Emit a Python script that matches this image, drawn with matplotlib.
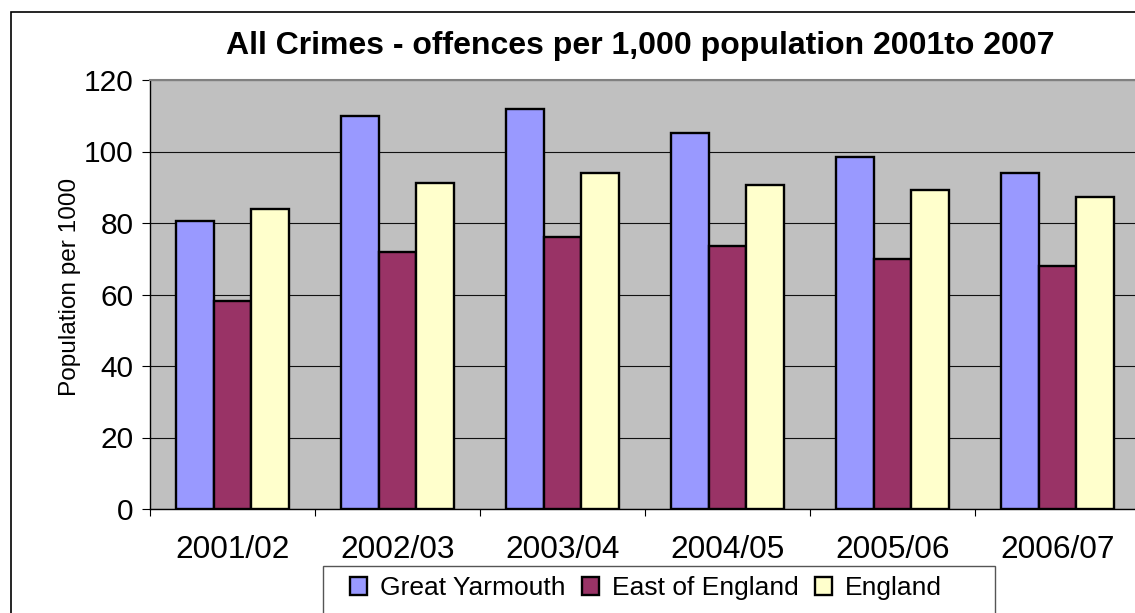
import matplotlib.pyplot as plt
import numpy as np
from matplotlib.patches import Rectangle

years = ['2001/02', '2002/03', '2003/04', '2004/05', '2005/06', '2006/07']
great_yarmouth = [80.5, 109.9, 111.9, 105.3, 98.5, 93.9]
east_of_england = [58.1, 72.0, 76.1, 73.5, 70.0, 68.0]
england = [84.0, 91.3, 94.0, 90.7, 89.3, 87.3]

series = [('Great Yarmouth', great_yarmouth, '#9999FF'),
          ('East of England', east_of_england, '#993366'),
          ('England', england, '#FFFFCC')]

plt.rcParams['font.family'] = ['Liberation Sans', 'DejaVu Sans']

W, H = 1135, 613
fig = plt.figure(figsize=(W / 100, H / 100), dpi=100)
ax = fig.add_axes([150 / W, 1 - 509 / H, 990 / W, 429 / H])
ax.set_facecolor('#C0C0C0')

x = np.arange(len(years))
width = 0.228
bars = []
for i, (name, vals, col) in enumerate(series):
    b = ax.bar(x + (i - 1) * width, vals, width, color=col, edgecolor='black',
               linewidth=1.7, label=name, zorder=3)
    bars.append(b)

ax.set_xlim(-0.5, len(years) - 0.5)
ax.set_ylim(0, 120)
ax.set_yticks(np.arange(0, 121, 20))
ax.yaxis.grid(True, color='#111111', linewidth=0.8, zorder=1)
ax.tick_params(axis='y', labelsize=21.5, length=6, width=0.8, pad=6, direction='out')

# category boundaries as major ticks, labels centred on minor ticks
ax.set_xticks(np.arange(-0.5, len(years), 1.0))
ax.set_xticklabels([])
ax.set_xticks(x, minor=True)
ax.set_xticklabels(years, minor=True)
ax.tick_params(axis='x', which='major', length=5, width=0.8, direction='out')
ax.tick_params(axis='x', which='minor', length=0, labelsize=22.8, pad=19)

for s in ['top', 'right']:
    ax.spines[s].set_color('#808080')
    ax.spines[s].set_linewidth(1.5)
for s in ['left', 'bottom']:
    ax.spines[s].set_color('black')
    ax.spines[s].set_linewidth(1.0)
ax.spines['bottom'].set_zorder(4)

fig.text(70 / W, 1 - 287 / H, 'Population per 1000', rotation=90,
         fontsize=17.6, ha='center', va='center')
fig.text(640 / W, 1 - 54 / H, 'All Crimes - offences per 1,000 population 2001to 2007',
         fontsize=23, fontweight='bold', ha='center', va='baseline')

# outer chart border
fig.patches.append(Rectangle((11 / W, -0.05), 1.1, 1.05 - 12 / H, transform=fig.transFigure,
                             fill=False, edgecolor='black', linewidth=1.2, clip_on=False))
# legend frame
fig.patches.append(Rectangle((323 / W, -0.05), (995 - 323) / W, 0.05 + 1 - 566 / H,
                             transform=fig.transFigure, facecolor='white',
                             edgecolor='#555555', linewidth=1.0, clip_on=False))

fig.legend(handles=bars, loc='center left', bbox_to_anchor=(350 / W, 1 - 588 / H),
           ncol=3, frameon=False, fontsize=19, borderpad=0, borderaxespad=0,
           handlelength=0.65, handleheight=0.65, handletextpad=0.5, columnspacing=0.6)

fig.savefig('out.png', dpi=100)
